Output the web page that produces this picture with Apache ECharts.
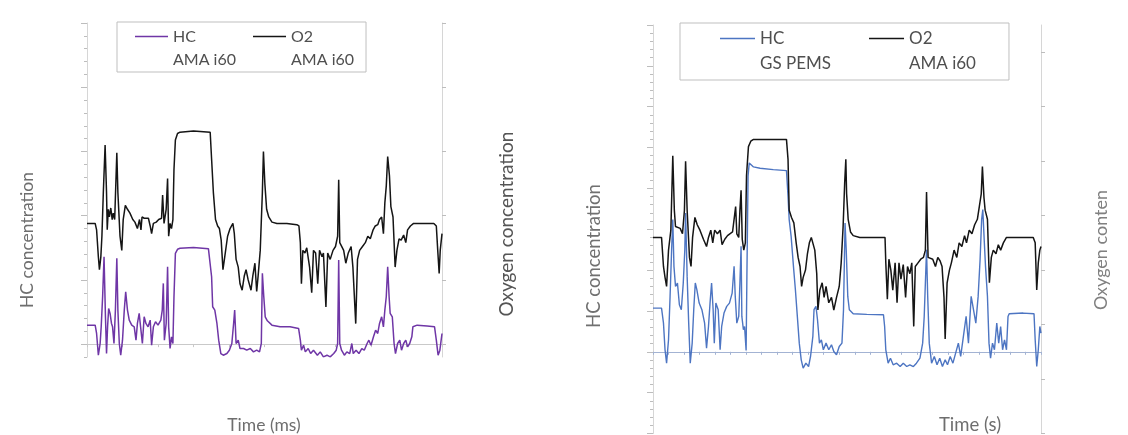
<!DOCTYPE html>
<html>
<head>
<meta charset="utf-8">
<title>HC and O2 concentration</title>
<script src="https://cdn.jsdelivr.net/npm/echarts@6.0.0/dist/echarts.min.js"></script>
<style>
  html, body { margin: 0; padding: 0; background: #fff; }
  #chart { width: 1128px; height: 435px; }
</style>
</head>
<body>
<div id="chart"></div>
<script>
// time axis runs 0..1000 in both panels
const leftO2 = [
  [0, 9.4], [23, 9.4], [27, 8.9], [32, 6.8], [35, 5.8], [39, 6.8], [42, 8.4], [46, 11.8], [51, 15.5], [55, 11.8],
  [57, 8.9], [60, 10.5], [63, 9.9], [67, 10.6], [71, 9.7], [74, 10.2], [78, 9.7], [84, 14.9], [87, 11.8], [93, 8.4],
  [98, 7.3], [102, 9.7], [108, 10.8], [114, 10.5], [121, 10.2], [129, 9.7], [135, 9.5], [142, 9.0], [148, 9.7], [152, 8.9],
  [155, 9.9], [161, 9.8], [166, 9.7], [173, 9.8], [178, 9.2], [182, 8.6], [187, 9.4], [195, 9.5], [202, 9.7], [210, 9.8],
  [213, 11.6], [217, 9.4], [223, 10.5], [227, 12.9], [230, 8.4], [234, 9.4], [238, 9.0], [242, 9.7], [245, 13.6], [249, 15.9],
  [255, 16.4], [262, 16.5], [300, 16.6], [347, 16.5], [351, 14.4], [356, 11.8], [362, 9.7], [368, 9.2], [373, 9.0], [378, 8.1],
  [383, 5.8], [388, 6.8], [396, 8.4], [403, 9.0], [411, 9.4], [415, 8.6], [420, 6.6], [426, 6.0], [431, 4.7], [437, 4.2],
  [443, 5.3], [448, 5.8], [454, 5.0], [462, 4.2], [467, 5.3], [473, 6.3], [478, 4.1], [482, 5.3], [488, 7.3], [494, 11.8],
  [497, 15.0], [501, 12.5], [506, 10.5], [512, 9.9], [521, 9.5], [535, 9.4], [563, 9.4], [591, 9.3], [597, 9.2], [601, 7.9],
  [604, 4.7], [608, 7.3], [614, 7.1], [619, 7.5], [627, 6.0], [633, 4.0], [638, 7.3], [644, 7.1], [650, 4.7], [655, 7.3],
  [662, 6.8], [666, 7.1], [673, 2.9], [678, 7.1], [685, 6.6], [693, 7.3], [700, 7.6], [706, 8.4], [709, 12.8], [712, 7.9],
  [717, 7.9], [723, 7.3], [729, 6.3], [736, 7.1], [744, 7.6], [749, 6.0], [757, 1.6], [762, 6.6], [768, 7.3], [776, 7.6],
  [784, 7.9], [791, 8.4], [798, 8.2], [806, 8.9], [812, 9.2], [819, 9.3], [824, 9.7], [830, 9.9], [835, 8.6], [839, 11.0],
  [843, 12.3], [847, 14.6], [852, 13.1], [856, 10.7], [862, 9.9], [868, 6.0], [873, 7.3], [879, 8.2], [885, 8.1], [892, 8.5],
  [898, 7.9], [903, 8.9], [911, 9.2], [920, 9.4], [977, 9.4], [984, 9.2], [988, 7.3], [992, 5.5], [995, 7.3], [1000, 8.6]
];

const leftHC = [
  [0, 29.6], [23, 29.6], [27, 16.6], [32, -17.2], [37, 1.0], [40, 27.0], [44, 73.8], [48, 136.2], [52, 42.6], [55, -14.6],
  [58, 27.0], [61, 55.6], [65, 47.8], [69, 32.2], [72, 27.0], [76, 1.0], [80, 53.0], [84, 133.6], [87, 53.0], [91, 1.0],
  [95, -17.2], [100, 6.2], [105, 53.0], [109, 81.6], [114, 53.0], [119, 37.4], [126, 29.6], [133, 27.0], [138, 6.2], [142, 32.2],
  [147, 47.8], [151, 27.0], [156, 1.0], [161, 42.6], [166, 32.2], [172, 27.0], [178, 37.4], [182, -1.6], [187, 27.0], [193, 34.8],
  [200, 29.6], [208, 37.4], [212, 53.0], [215, 94.6], [218, 6.2], [223, 32.2], [227, 120.6], [230, 27.0], [234, -6.8], [238, 11.4],
  [242, 1.0], [245, 73.8], [249, 141.4], [255, 147.7], [262, 149.2], [300, 150.3], [342, 148.7], [347, 146.6], [351, 105.0], [354, 58.2],
  [360, 53.0], [366, 32.2], [371, 6.2], [377, -14.6], [384, -17.2], [394, -14.6], [401, -9.4], [408, 1.0], [413, 32.2], [416, 53.0],
  [420, 1.0], [426, 6.2], [431, -6.8], [441, -6.8], [450, -9.4], [460, -6.8], [469, -12.0], [478, -9.4], [486, -12.0], [491, 1.0],
  [494, 110.2], [498, 73.8], [502, 42.6], [508, 36.4], [521, 29.6], [544, 27.0], [572, 27.0], [596, 24.4], [601, 6.2], [604, -9.4],
  [610, -1.6], [615, -12.0], [623, -6.8], [630, -14.6], [638, -9.4], [649, -17.2], [657, -12.0], [666, -19.8], [676, -17.2], [685, -19.8],
  [695, -14.6], [702, -9.4], [706, 1.0], [709, 131.0], [712, 1.0], [717, -9.4], [725, -17.2], [732, -12.0], [740, -14.6], [746, 1.0],
  [750, -14.6], [758, -9.4], [766, -14.6], [774, -6.8], [781, -9.4], [789, 1.0], [794, 6.2], [800, -1.6], [807, 11.4], [813, 21.8],
  [819, 16.6], [824, 32.2], [830, 42.6], [835, 27.0], [839, 53.0], [843, 73.8], [847, 120.6], [851, 73.8], [854, 47.8], [860, 42.6],
  [865, 1.0], [869, -14.6], [875, 1.0], [881, 6.2], [886, -9.4], [892, 1.0], [898, 6.2], [903, -4.2], [909, 1.0], [915, 11.4],
  [918, 27.0], [930, 29.6], [958, 28.1], [979, 27.0], [984, 6.2], [989, -17.2], [994, -9.4], [1000, 16.6]
];

const rightO2 = [
  [0, 10.8], [22, 10.8], [27, 9.2], [31, 8.6], [35, 8.1], [40, 10.1], [46, 11.2], [51, 15.3], [55, 12.3], [58, 11.4],
  [63, 11.5], [70, 11.3], [76, 11.0], [81, 12.3], [84, 15.0], [88, 12.3], [94, 9.7], [98, 9.2], [102, 10.8], [108, 11.9],
  [114, 11.5], [121, 11.2], [130, 10.7], [138, 10.3], [143, 10.8], [149, 11.2], [154, 10.5], [159, 11.2], [166, 11.0], [173, 11.2],
  [178, 10.4], [185, 10.7], [192, 10.9], [198, 11.0], [205, 11.1], [210, 11.2], [213, 12.5], [216, 11.0], [221, 10.8], [224, 12.3],
  [227, 13.4], [230, 10.7], [234, 10.1], [238, 10.5], [241, 14.2], [246, 15.8], [252, 16.1], [259, 16.2], [344, 16.2], [348, 15.1],
  [351, 12.3], [357, 11.9], [363, 11.6], [369, 10.5], [374, 9.7], [379, 9.2], [383, 8.1], [387, 8.6], [393, 9.0], [398, 9.9],
  [403, 10.5], [408, 10.8], [413, 10.7], [417, 10.1], [422, 8.8], [425, 6.8], [430, 7.9], [436, 8.3], [441, 7.5], [446, 8.1],
  [453, 7.2], [460, 7.5], [466, 6.8], [473, 7.5], [480, 8.1], [485, 9.4], [490, 11.4], [494, 13.8], [497, 15.1], [499, 13.2],
  [503, 11.8], [509, 11.1], [516, 10.9], [533, 10.8], [598, 10.8], [600, 9.4], [604, 7.4], [608, 9.6], [613, 9.0], [618, 7.9],
  [624, 9.4], [629, 7.2], [634, 9.4], [639, 8.5], [645, 9.3], [651, 7.5], [656, 9.2], [662, 8.8], [667, 9.4], [672, 5.9],
  [676, 9.2], [683, 9.4], [690, 9.6], [697, 9.7], [702, 10.1], [705, 13.3], [709, 9.7], [714, 9.6], [721, 9.6], [728, 9.2],
  [734, 9.7], [740, 9.5], [745, 9.2], [750, 7.5], [753, 5.2], [758, 8.3], [764, 9.0], [769, 9.4], [776, 10.1], [783, 9.7],
  [789, 10.5], [796, 10.3], [803, 10.9], [808, 10.5], [815, 11.2], [822, 11.0], [829, 11.5], [836, 11.8], [841, 12.5], [846, 13.2],
  [849, 14.7], [853, 13.0], [856, 12.3], [862, 11.8], [867, 8.3], [872, 9.7], [877, 10.1], [884, 9.9], [890, 10.4], [896, 10.1],
  [903, 10.5], [911, 10.8], [920, 10.8], [980, 10.8], [985, 10.5], [989, 7.9], [993, 9.4], [997, 10.1], [1000, 10.3]
];

const rightHC = [
  [0, 53.5], [22, 53.5], [27, 35.1], [31, 2.5], [35, -13.9], [40, 14.7], [44, 67.8], [48, 125.0], [51, 161.8], [54, 104.6],
  [58, 80.1], [63, 84.2], [68, 57.6], [73, 51.5], [78, 84.2], [82, 125.0], [84, 169.9], [88, 92.3], [92, 35.1], [96, -13.9],
  [101, 10.6], [105, 51.5], [109, 84.2], [113, 76.0], [119, 59.6], [126, 51.5], [133, 35.1], [138, 4.5], [143, 31.0], [147, 59.6],
  [151, 84.2], [155, 51.5], [158, 10.6], [162, 59.6], [168, 51.5], [173, 2.5], [177, 31.0], [183, 47.4], [190, 55.6], [197, 59.6],
  [204, 71.9], [209, 104.6], [212, 67.8], [216, 35.1], [221, 43.3], [224, 84.2], [227, 129.1], [229, 43.3], [233, 27.0], [236, 31.0],
  [240, 1.6], [242, 92.3], [245, 214.9], [248, 231.2], [259, 226.3], [276, 224.7], [310, 223.0], [344, 221.8], [348, 190.4], [351, 161.8],
  [356, 141.3], [362, 104.6], [367, 76.0], [372, 43.3], [377, 10.6], [382, -9.8], [387, -20.0], [394, -13.9], [401, -18.0], [406, -5.7],
  [412, 18.8], [415, 51.5], [420, 55.6], [424, 39.2], [429, 10.6], [434, 14.7], [439, 2.5], [446, 10.6], [453, 2.5], [460, 8.6],
  [466, 0.4], [473, -3.7], [480, 6.5], [487, 10.6], [491, 51.5], [495, 157.7], [498, 125.0], [502, 67.8], [506, 51.5], [516, 46.6],
  [551, 45.8], [594, 45.3], [597, 31.0], [600, 2.5], [606, -13.9], [612, -7.8], [619, -15.9], [628, -13.9], [637, -18.0], [645, -13.9],
  [654, -18.0], [662, -15.9], [671, -18.0], [679, -13.9], [688, -7.8], [695, 10.6], [699, 43.3], [702, 84.2], [705, 125.0], [708, 67.8],
  [712, 10.6], [718, -13.9], [725, -5.7], [732, -15.9], [739, -7.8], [746, -18.0], [753, -9.8], [759, -15.9], [766, -5.7], [773, -13.9],
  [780, -1.6], [787, 10.6], [793, -5.7], [800, 18.8], [807, 43.3], [813, 10.6], [820, 67.8], [826, 51.5], [832, 35.1], [838, 67.8],
  [843, 112.7], [847, 161.8], [850, 174.0], [854, 133.2], [857, 104.6], [862, 67.8], [866, 10.6], [870, -7.8], [875, 10.6], [880, 2.5],
  [886, 35.1], [891, 10.6], [896, 31.0], [901, 2.5], [906, 14.7], [911, 2.5], [915, 43.3], [918, 46.6], [954, 47.4], [982, 46.6],
  [985, 14.7], [989, -18.0], [993, 2.5], [997, 31.0], [1000, 22.9]
];

// tick positions (the reference shows no tick labels)
const leftHcMajorTicks = [0, 100, 200, 300, 400, 500];
const leftO2Ticks = [0, 5, 10, 15, 20, 25];
const rightO2Ticks = [0, 3, 6, 9, 12, 15, 18, 21];

// legend text: gas on the first line, instrument on the second
const legendLabels = {
  'HC AMA i60': 'HC\nAMA i60',
  'O2 AMA i60': 'O2\nAMA i60',
  'HC GS PEMS': 'HC\nGS PEMS',
  'O2 AMA i60 (PEMS run)': 'O2\nAMA i60'
};

const FONT = 'Lato';
const axisGray = '#d6d6d6';
const tickGray = '#bdbdbd';
// line sits on the first text row: thin bar at 1/4 of the icon height
const legendLine = 'path://M0,0H0.02V0.02ZM0,0.94H32V1.06H0ZM0,4H0.02V3.98Z';

const chart = echarts.init(document.getElementById('chart'));

function legendBox(names, left, top, padding, itemWidth, itemGap, fontSize, lineHeight) {
  return {
    data: names,
    left: left,
    top: top,
    orient: 'horizontal',
    padding: padding,
    itemWidth: itemWidth,
    itemHeight: lineHeight * 2,
    itemGap: itemGap,
    icon: legendLine,
    symbolKeepAspect: false,
    itemStyle: { borderWidth: 0 },
    borderColor: '#bfbfbf',
    borderWidth: 1,
    selectedMode: false,
    formatter: name => legendLabels[name],
    textStyle: { fontFamily: FONT, fontSize: fontSize, lineHeight: lineHeight, color: '#4f4f4f' }
  };
}

function titleText(text, x, y, size, color, vertical) {
  return {
    type: 'text',
    x: x,
    y: y,
    rotation: vertical ? Math.PI / 2 : 0,
    style: {
      text: text,
      fontFamily: FONT,
      fontSize: size,
      fill: color,
      align: 'center',
      verticalAlign: 'middle'
    }
  };
}

const option = {
  animation: false,
  backgroundColor: '#ffffff',
  grid: [
    { left: 87, top: 23, width: 355, height: 334 },
    { left: 653, top: 25, width: 388, height: 408.5 }
  ],
  legend: [
    legendBox(['HC AMA i60', 'O2 AMA i60'], 117, 22, [3, 12, 1, 18], 33, 17, 16, 23),
    legendBox(['HC GS PEMS', 'O2 AMA i60 (PEMS run)'], 680, 23, [3, 33, 4, 40], 35, 38, 17, 25)
  ],
  xAxis: [
    {
      gridIndex: 0, type: 'value', min: 0, max: 1000, interval: 100,
      axisLine: { onZero: true, onZeroAxisIndex: 0, lineStyle: { color: '#c9c9c9', width: 1 } },
      axisTick: { show: true, length: 3, lineStyle: { color: '#c9c9c9' } },
      axisLabel: { show: false },
      splitLine: { show: false }
    },
    {
      gridIndex: 1, type: 'value', min: 0, max: 1000, interval: 40,
      axisLine: { onZero: true, onZeroAxisIndex: 3, lineStyle: { color: '#a3b3d3', width: 1 } },
      axisTick: { show: true, length: 3, lineStyle: { color: '#a3b3d3' } },
      axisLabel: { show: false },
      splitLine: { show: false }
    }
  ],
  yAxis: [
    {
      // left panel, HC (minor ticks)
      gridIndex: 0, type: 'value', position: 'left', min: -20, max: 500, interval: 20,
      axisLine: { show: true, onZero: false, lineStyle: { color: axisGray } },
      axisTick: { show: true, length: 3, lineStyle: { color: tickGray } },
      axisLabel: { show: false },
      splitLine: { show: false }
    },
    {
      // left panel, O2
      gridIndex: 0, type: 'value', position: 'right', min: -1, max: 25,
      axisLine: { show: true, onZero: false, lineStyle: { color: axisGray } },
      axisTick: { show: true, length: 4, customValues: leftO2Ticks, lineStyle: { color: tickGray } },
      axisLabel: { show: false },
      splitLine: { show: false }
    },
    {
      // left panel, HC major ticks
      gridIndex: 0, type: 'value', position: 'left', min: -20, max: 500,
      axisLine: { show: false, onZero: false },
      axisTick: { show: true, length: 6, customValues: leftHcMajorTicks, lineStyle: { color: tickGray } },
      axisLabel: { show: false },
      splitLine: { show: false }
    },
    {
      // right panel, HC
      gridIndex: 1, type: 'value', position: 'left', min: -100, max: 400, interval: 50,
      axisLine: { show: true, onZero: false, lineStyle: { color: axisGray } },
      axisTick: { show: true, length: 6, lineStyle: { color: tickGray } },
      minorTick: { show: true, splitNumber: 5, length: 3, lineStyle: { color: tickGray } },
      axisLabel: { show: false },
      splitLine: { show: false }
    },
    {
      // right panel, O2
      gridIndex: 1, type: 'value', position: 'right', min: 0, max: 22.5,
      axisLine: { show: true, onZero: false, lineStyle: { color: axisGray } },
      axisTick: { show: true, length: 4, customValues: rightO2Ticks, lineStyle: { color: tickGray } },
      axisLabel: { show: false },
      splitLine: { show: false }
    }
  ],
  series: [
    {
      name: 'HC AMA i60', type: 'line', xAxisIndex: 0, yAxisIndex: 0,
      data: leftHC, showSymbol: false, symbol: 'none',
      color: '#6f36a6', lineStyle: { width: 1.5 }
    },
    {
      name: 'O2 AMA i60', type: 'line', xAxisIndex: 0, yAxisIndex: 1,
      data: leftO2, showSymbol: false, symbol: 'none',
      color: '#151515', lineStyle: { width: 1.5 }
    },
    {
      name: 'HC GS PEMS', type: 'line', xAxisIndex: 1, yAxisIndex: 3,
      data: rightHC, showSymbol: false, symbol: 'none',
      color: '#4d75c2', lineStyle: { width: 1.4 }
    },
    {
      name: 'O2 AMA i60 (PEMS run)', type: 'line', xAxisIndex: 1, yAxisIndex: 4,
      data: rightO2, showSymbol: false, symbol: 'none',
      color: '#151515', lineStyle: { width: 1.5 }
    }
  ],
  graphic: [
    titleText('HC concentration', 27, 240, 17.5, '#6e6e6e', true),
    titleText('Oxygen concentration', 507, 224, 19, '#555555', true),
    titleText('Time (ms)', 264, 425, 17.5, '#6e6e6e', false),
    titleText('HC concentration', 594, 256, 18.5, '#707070', true),
    titleText('Oxygen conten', 1101, 250, 18, '#808080', true),
    titleText('Time (s)', 970, 425, 18.5, '#6e6e6e', false)
  ]
};

chart.setOption(option);
window.addEventListener('resize', () => chart.resize());
</script>
</body>
</html>
